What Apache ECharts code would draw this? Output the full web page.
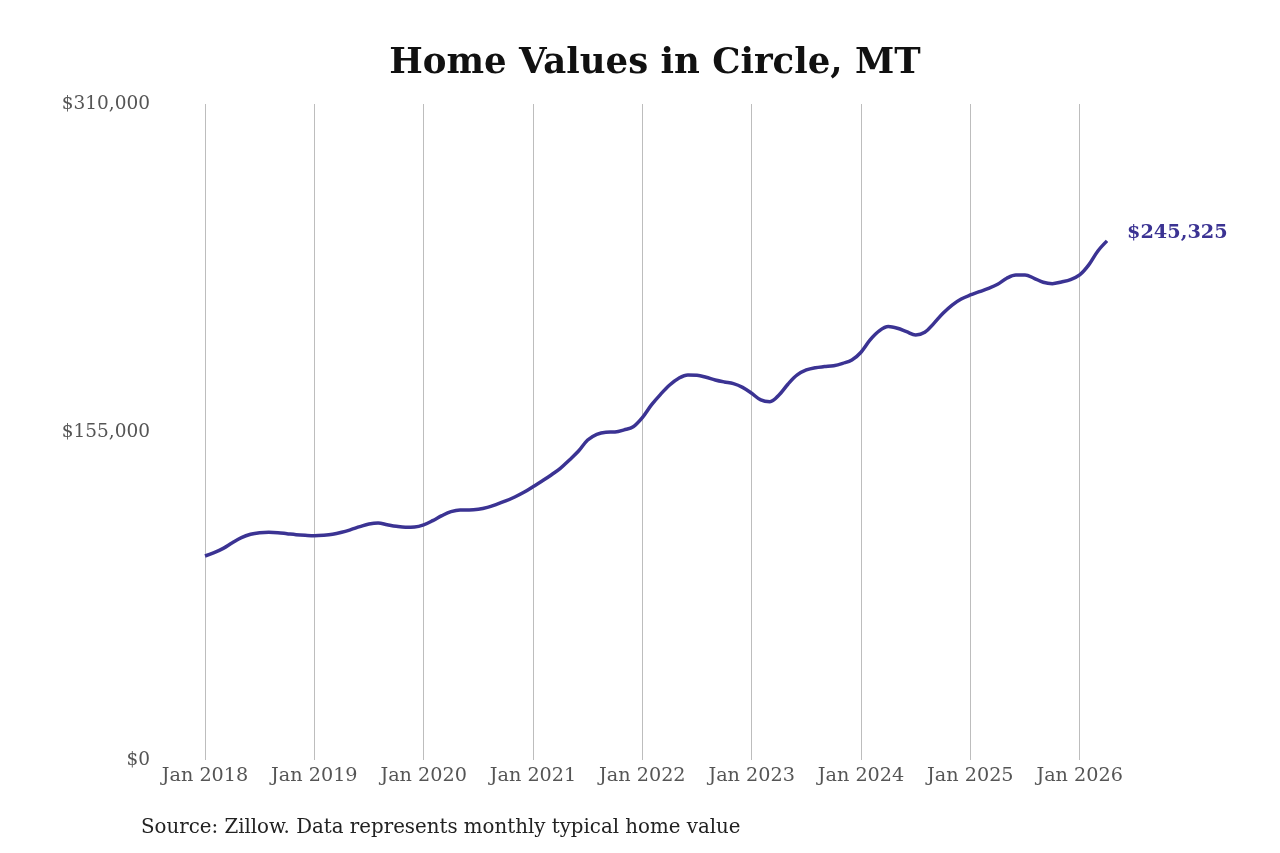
<!DOCTYPE html>
<html>
<head>
<meta charset="utf-8">
<script src="https://cdn.jsdelivr.net/npm/echarts@6/dist/echarts.min.js"></script>
<style>
  html, body { margin: 0; padding: 0; background: #fff; }
  #chart { width: 1280px; height: 853px; }
</style>
</head>
<body>
<div id="chart"></div>
<script>
// months Jan 2018 .. Apr 2026
var years = [2018, 2019, 2020, 2021, 2022, 2023, 2024, 2025, 2026];
var monthNames = ['Jan', 'Feb', 'Mar', 'Apr', 'May', 'Jun', 'Jul', 'Aug', 'Sep', 'Oct', 'Nov', 'Dec'];
var lastMonthCount = 4; // 2026: Jan..Apr

// typical home value
var homeValues = [
  96400, 98000, 100000, 102700, 105100, 106650, 107400, 107600, 107400, 106950, 106500, 106200,
  106000, 106200, 106650, 107600, 108850, 110250, 111500, 112000, 111200, 110450, 110000, 110100,
  111100, 113100, 115450, 117350, 118150, 118150, 118500, 119400, 120800, 122400, 124300, 126500,
  129150, 131850, 134700, 137850, 141800, 146000, 151200, 153900, 154900, 155000, 156000, 157500,
  161800, 167800, 172800, 177200, 180400, 181950, 181800, 180850, 179600, 178650, 177850, 176100,
  173300, 170150, 169350, 172500, 177700, 181950, 184300, 185400, 185900, 186350, 187450, 189000,
  192700, 198500, 202750, 204800, 204000, 202400, 200850, 202100, 206350, 211100, 215000, 217850,
  219750, 221300, 222900, 224800, 227650, 229200, 229200, 227650, 225750, 225100, 225900, 227000,
  229200, 233950, 240550, 245325
];

var yTicks = [0, 155000, 310000];

var months = [];
years.forEach(function(y, i) {
  var n = i === years.length - 1 ? lastMonthCount : 12;
  for (var m = 0; m < n; m++) months.push(monthNames[m] + ' ' + y);
});

function money(v) {
  return '$' + v.toString().replace(/\B(?=(\d{3})+(?!\d))/g, ',');
}

var chart = echarts.init(document.getElementById('chart'));
var option = {
  animation: false,
  backgroundColor: '#fff',
  textStyle: { fontFamily: 'DejaVu Serif' },
  title: {
    text: 'Home Values in Circle, MT',
    left: 650,
    top: 41,
    textAlign: 'center',
    textStyle: {
      fontFamily: 'DejaVu Serif',
      fontWeight: 'bold',
      fontSize: 35.5,
      color: '#111'
    }
  },
  graphic: [{
    type: 'text',
    left: 141,
    top: 818,
    style: {
      text: 'Source: Zillow. Data represents monthly typical home value',
      font: '19.8px "DejaVu Serif"',
      fill: '#222'
    }
  }],
  grid: {
    left: 205,
    right: 173,
    top: 104,
    bottom: 93,
    containLabel: false
  },
  xAxis: {
    type: 'category',
    data: months,
    boundaryGap: false,
    axisLine: { show: false },
    axisTick: { show: false },
    axisLabel: {
      interval: 11,
      margin: 7,
      color: '#555',
      fontSize: 19.2,
      fontFamily: 'DejaVu Serif'
    },
    splitLine: {
      show: true,
      interval: 11,
      lineStyle: { color: '#bdbdbd', width: 1 }
    }
  },
  yAxis: {
    type: 'value',
    min: yTicks[0],
    max: yTicks[yTicks.length - 1],
    interval: yTicks[1] - yTicks[0],
    axisLine: { show: false },
    axisTick: { show: false },
    splitLine: { show: false },
    axisLabel: {
      margin: 55,
      color: '#555',
      fontSize: 18.5,
      fontFamily: 'DejaVu Serif',
      formatter: money
    }
  },
  series: [{
    type: 'line',
    data: homeValues,
    smooth: 0.35,
    symbol: 'none',
    lineStyle: { color: '#3b3393', width: 3.5 },
    endLabel: {
      show: true,
      formatter: function(p) { return money(p.value); },
      color: '#3b3393',
      fontWeight: 'bold',
      fontSize: 19.3,
      fontFamily: 'DejaVu Serif',
      distance: 20,
      offset: [0, -8]
    }
  }]
};
chart.setOption(option);
</script>
</body>
</html>
